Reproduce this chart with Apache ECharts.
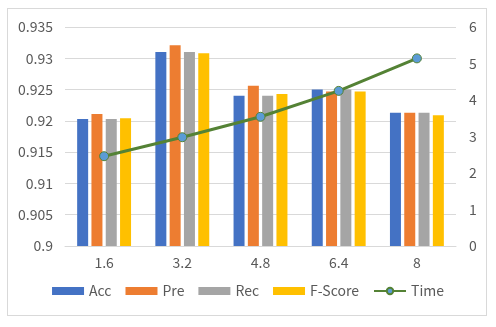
<!DOCTYPE html>
<html>
<head>
<meta charset="utf-8">
<script src="https://cdn.jsdelivr.net/npm/echarts@6/dist/echarts.min.js"></script>
<style>
  html, body { margin: 0; padding: 0; background: #fff; }
  #frame { position: absolute; left: 7px; top: 8px; width: 478px; height: 306px; border: 1px solid #d9d9d9; }
  #chart { width: 496px; height: 327px; position: absolute; left: 0; top: 0; }
</style>
</head>
<body>
<div id="frame"></div>
<div id="chart"></div>
<script>
// 类别与数据
var categories = ['1.6', '3.2', '4.8', '6.4', '8'];
var acc = [0.9203, 0.9310, 0.9240, 0.9250, 0.9213];
var pre = [0.9211, 0.9321, 0.9256, 0.9247, 0.9213];
var rec = [0.9203, 0.9310, 0.9240, 0.9250, 0.9213];
var fScore = [0.9204, 0.9308, 0.9243, 0.9247, 0.9209];
var time = [2.46, 2.98, 3.54, 4.25, 5.14];

var chart = echarts.init(document.getElementById('chart'));
var txt = '#595959';
var font = '"Noto Sans CJK SC", "Noto Sans", sans-serif';

function bar(name, data, color) {
  return {
    name: name,
    type: 'bar',
    yAxisIndex: 0,
    barWidth: 11,
    barGap: '30%',
    itemStyle: { color: color },
    data: data
  };
}

chart.setOption({
  animation: false,
  textStyle: { fontFamily: font },
  grid: { left: 65, right: 40, top: 27, bottom: 81 },
  legend: {
    bottom: 24,
    left: 'center',
    itemWidth: 32,
    itemHeight: 8,
    itemGap: 14,
    textStyle: { fontSize: 14, color: txt, fontFamily: font },
    data: [
      { name: 'Acc', icon: 'rect' },
      { name: 'Pre', icon: 'rect' },
      { name: 'Rec', icon: 'rect' },
      { name: 'F-Score', icon: 'rect' },
      { name: 'Time' }
    ]
  },
  xAxis: {
    type: 'category',
    data: categories,
    axisLine: { lineStyle: { color: '#d9d9d9' } },
    axisTick: { show: false },
    axisLabel: { color: txt, fontSize: 14, margin: 10 }
  },
  yAxis: [
    {
      type: 'value',
      min: 0.9,
      max: 0.935,
      interval: 0.005,
      axisLine: { show: false },
      axisTick: { show: false },
      axisLabel: { color: txt, fontSize: 14, margin: 12 },
      splitLine: { lineStyle: { color: '#d9d9d9' } }
    },
    {
      type: 'value',
      min: 0,
      max: 6,
      interval: 1,
      axisLine: { show: false },
      axisTick: { show: false },
      axisLabel: { color: txt, fontSize: 14, margin: 13 },
      splitLine: { show: false }
    }
  ],
  series: [
    bar('Acc', acc, '#4472c4'),
    bar('Pre', pre, '#ed7d31'),
    bar('Rec', rec, '#a5a5a5'),
    bar('F-Score', fScore, '#ffc000'),
    {
      name: 'Time',
      type: 'line',
      yAxisIndex: 1,
      symbol: 'circle',
      symbolSize: 9,
      lineStyle: { color: '#548235', width: 3 },
      itemStyle: { color: '#5b9bd5', borderColor: '#548235', borderWidth: 1 },
      data: time
    }
  ]
});
</script>
</body>
</html>
